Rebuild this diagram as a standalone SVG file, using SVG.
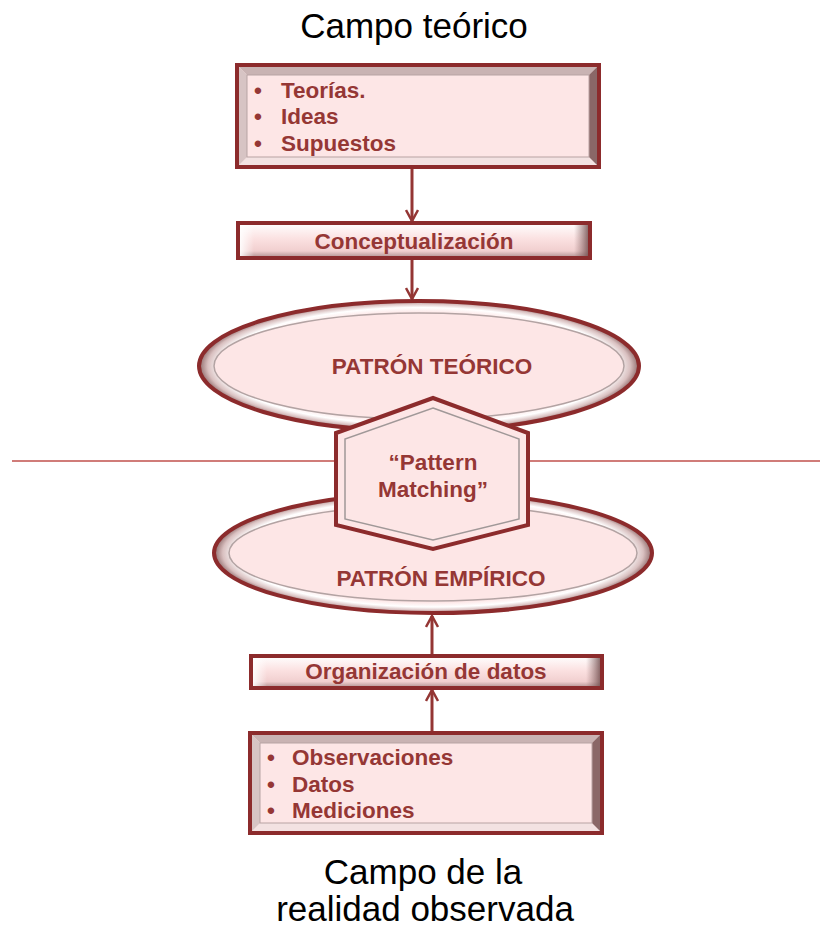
<svg xmlns="http://www.w3.org/2000/svg" width="820" height="930" viewBox="0 0 820 930">
  <style>
    .title { font-family: "Liberation Sans", Arial, sans-serif; font-size: 35px; fill: #000; }
    .lbl { font-family: "Liberation Sans", Arial, sans-serif; font-size: 22.5px; font-weight: bold; fill: #953735; }
    .edge { stroke: #943634; stroke-width: 3; fill: none; }
  </style>
  <defs>
    <marker id="arr" viewBox="0 0 14 14" refX="12" refY="7" markerWidth="14" markerHeight="14" markerUnits="userSpaceOnUse" orient="auto">
      <polyline points="1,1 12,7 1,13" fill="none" stroke="#943634" stroke-width="2.5"/>
    </marker>
    <linearGradient id="bar" x1="0" y1="0" x2="0" y2="1">
      <stop offset="0" stop-color="#ffffff"/>
      <stop offset="0.45" stop-color="#fbe1e1"/>
      <stop offset="0.8" stop-color="#f1cfcf"/>
      <stop offset="1" stop-color="#a98a8a"/>
    </linearGradient>
    <linearGradient id="sideL" x1="0" y1="0" x2="1" y2="0">
      <stop offset="0" stop-color="#ffffff" stop-opacity="0.9"/>
      <stop offset="1" stop-color="#ffffff" stop-opacity="0"/>
    </linearGradient>
    <linearGradient id="sideR" x1="0" y1="0" x2="1" y2="0">
      <stop offset="0" stop-color="#8a6a6a" stop-opacity="0"/>
      <stop offset="1" stop-color="#6e4a4a" stop-opacity="0.8"/>
    </linearGradient>
    <radialGradient id="ring" cx="0.5" cy="0.5" r="0.5">
      <stop offset="0.82" stop-color="#fde6e6"/>
      <stop offset="0.9" stop-color="#ffffff"/>
      <stop offset="0.96" stop-color="#d9c0c0"/>
      <stop offset="1" stop-color="#8e6a6a"/>
    </radialGradient>
  </defs>

  <!-- headings -->
  <text class="title" x="414" y="38" text-anchor="middle">Campo teórico</text>
  <text class="title" x="423" y="884" text-anchor="middle">Campo de la</text>
  <text class="title" x="425" y="921" text-anchor="middle">realidad observada</text>

  <!-- dividing line between theory and reality -->
  <line x1="12" y1="461" x2="820" y2="461" stroke="#c0504d" stroke-width="1.5"/>

  <!-- connectors -->
  <g id="connectors">
    <line class="edge" x1="412" y1="168" x2="412" y2="221" marker-end="url(#arr)"/>
    <line class="edge" x1="412" y1="259" x2="412" y2="299" marker-end="url(#arr)"/>
    <line class="edge" x1="432" y1="655" x2="432" y2="616" marker-end="url(#arr)"/>
    <line class="edge" x1="432" y1="733" x2="432" y2="690" marker-end="url(#arr)"/>
  </g>

  <!-- theory box -->
  <g id="teoria">
    <rect x="237" y="65" width="362" height="102" fill="#fde6e6" stroke="#8c2b2c" stroke-width="4"/>
    <polygon points="239,67 597,67 589,75 247,75" fill="#c9b3b3"/>
    <polygon points="239,165 597,165 589,157 247,157" fill="#f3e2e2"/>
    <polygon points="239,67 247,75 247,157 239,165" fill="#d7c4c4"/>
    <polygon points="597,67 589,75 589,157 597,165" fill="#8a6767"/>
    <rect x="247" y="75" width="342" height="82" fill="#fde6e6" stroke="#b8a3a3" stroke-width="1"/>
    <text class="lbl" x="254" y="98">•</text>
    <text class="lbl" x="281" y="98">Teorías.</text>
    <text class="lbl" x="254" y="124">•</text>
    <text class="lbl" x="281" y="124">Ideas</text>
    <text class="lbl" x="254" y="151">•</text>
    <text class="lbl" x="281" y="151">Supuestos</text>
  </g>

  <!-- conceptualisation bar -->
  <g id="conceptualizacion">
    <rect x="238" y="223" width="352" height="35" fill="url(#bar)" stroke="#8c2b2c" stroke-width="4"/>
    <rect x="240" y="225" width="14" height="31" fill="url(#sideL)"/>
    <rect x="574" y="225" width="14" height="31" fill="url(#sideR)"/>
    <text class="lbl" x="414" y="249" text-anchor="middle">Conceptualización</text>
  </g>

  <!-- theoretical pattern -->
  <g id="patron-teorico">
    <ellipse cx="419" cy="366" rx="220" ry="65" fill="url(#ring)" stroke="#8c2b2c" stroke-width="4"/>
    <ellipse cx="419" cy="366" rx="205" ry="53" fill="#fde6e6" stroke="#b3a3a3" stroke-width="1.5"/>
    <text class="lbl" x="432" y="374" text-anchor="middle">PATRÓN TEÓRICO</text>
  </g>

  <!-- empirical pattern -->
  <g id="patron-empirico">
    <ellipse cx="433" cy="553" rx="219" ry="60" fill="url(#ring)" stroke="#8c2b2c" stroke-width="4"/>
    <ellipse cx="433" cy="553" rx="204" ry="48" fill="#fde6e6" stroke="#b3a3a3" stroke-width="1.5"/>
    <text class="lbl" x="441" y="586" text-anchor="middle">PATRÓN EMPÍRICO</text>
  </g>

  <!-- pattern matching hexagon -->
  <g id="pattern-matching">
    <polygon points="433,398 528,433 528,525 433,549 336,525 336,433" fill="#fde6e6" stroke="#8c2b2c" stroke-width="4"/>
    <polygon points="433,408 519,439 519,519 433,540 345,519 345,439" fill="#fde6e6" stroke="#a09898" stroke-width="1.5"/>
    <text class="lbl" x="433" y="470" text-anchor="middle">“Pattern</text>
    <text class="lbl" x="433" y="497" text-anchor="middle">Matching”</text>
  </g>

  <!-- data organisation bar -->
  <g id="organizacion">
    <rect x="251" y="656" width="351" height="32" fill="url(#bar)" stroke="#8c2b2c" stroke-width="4"/>
    <rect x="253" y="658" width="14" height="28" fill="url(#sideL)"/>
    <rect x="586" y="658" width="14" height="28" fill="url(#sideR)"/>
    <text class="lbl" x="426" y="679" text-anchor="middle">Organización de datos</text>
  </g>

  <!-- observed reality box -->
  <g id="observaciones">
    <rect x="250" y="733" width="352" height="100" fill="#fde6e6" stroke="#8c2b2c" stroke-width="4"/>
    <polygon points="252,735 600,735 592,743 260,743" fill="#c9b3b3"/>
    <polygon points="252,831 600,831 592,823 260,823" fill="#f3e2e2"/>
    <polygon points="252,735 260,743 260,823 252,831" fill="#d7c4c4"/>
    <polygon points="600,735 592,743 592,823 600,831" fill="#8a6767"/>
    <rect x="260" y="743" width="332" height="80" fill="#fde6e6" stroke="#b8a3a3" stroke-width="1"/>
    <text class="lbl" x="267" y="765">•</text>
    <text class="lbl" x="292" y="765">Observaciones</text>
    <text class="lbl" x="267" y="792">•</text>
    <text class="lbl" x="292" y="792">Datos</text>
    <text class="lbl" x="267" y="818">•</text>
    <text class="lbl" x="292" y="818">Mediciones</text>
  </g>
</svg>
